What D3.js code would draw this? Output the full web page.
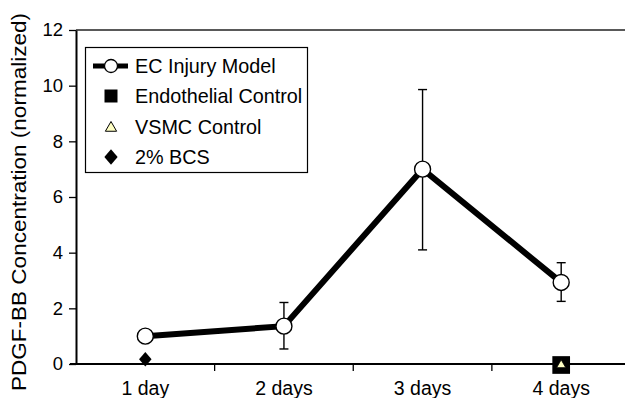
<!DOCTYPE html>
<html>
<head>
<meta charset="utf-8">
<script src="https://cdn.jsdelivr.net/npm/d3@7"></script>
<style>
  body { margin: 0; background: #fff; }
  svg { display: block; font-family: "Liberation Sans", Arial, Helvetica, sans-serif; }
</style>
</head>
<body>
<div id="chart"></div>
<script>
// chart data
const days = ["1 day", "2 days", "3 days", "4 days"];
const ecInjury = [1.0, 1.36, 7.0, 2.93];
const ecErrLow = [1.0, 0.54, 4.1, 2.25];
const ecErrHigh = [1.0, 2.21, 9.86, 3.64];
const endoControl = [{ day: "4 days", value: 0 }];
const vsmcControl = [{ day: "4 days", value: 0 }];
const bcs = [{ day: "1 day", value: 0.17 }];
const yTicks = [0, 2, 4, 6, 8, 10, 12];
const legendLabels = ["EC Injury Model", "Endothelial Control", "VSMC Control", "2% BCS"];

const width = 625, height = 398;
const svg = d3.select('#chart')
    .append('svg')
    .attr('width', width)
    .attr('height', height);

const x = d3.scaleBand()
    .domain(days)
    .range([76, 630.5])
    .padding(0);
const cx = d => x(d) + x.bandwidth() / 2;

const y = d3.scaleLinear()
    .domain([0, 12])
    .range([364, 30]);

// top frame line
svg.append('line')
    .attr('x1', 76).attr('x2', width)
    .attr('y1', y(12)).attr('y2', y(12))
    .attr('stroke', '#222')
    .attr('stroke-width', 1.5);

// Y axis
const yAxis = svg.append('g')
    .attr('transform', 'translate(76,0)')
    .call(d3.axisLeft(y).tickValues(yTicks).tickSize(7).tickPadding(6).tickSizeOuter(0));
yAxis.select('.domain').attr('stroke', '#000').attr('stroke-width', 2);
yAxis.selectAll('.tick line').attr('stroke', '#000').attr('stroke-width', 1.3);
yAxis.selectAll('text').attr('font-size', '18.5px').attr('fill', '#000');

// X axis (labels at centers, ticks at band boundaries)
const xAxis = svg.append('g')
    .attr('transform', 'translate(0,' + y(0) + ')')
    .call(d3.axisBottom(x).tickSize(0).tickPadding(17).tickSizeOuter(0));
xAxis.select('.domain').remove();
xAxis.selectAll('text').attr('font-size', '19.5px').attr('fill', '#000');

svg.append('line')
    .attr('x1', 70).attr('x2', width)
    .attr('y1', y(0)).attr('y2', y(0))
    .attr('stroke', '#000')
    .attr('stroke-width', 2);

svg.selectAll('.xtick')
    .data(days.slice(1))
    .enter()
    .append('line')
    .attr('class', 'xtick')
    .attr('x1', d => x(d)).attr('x2', d => x(d))
    .attr('y1', y(0)).attr('y2', y(0) + 7)
    .attr('stroke', '#000')
    .attr('stroke-width', 1.3);

// Y axis title
svg.append('text')
    .attr('transform', 'rotate(-90)')
    .attr('x', -202)
    .attr('y', 26)
    .attr('text-anchor', 'middle')
    .attr('font-size', '19.5px')
    .attr('textLength', 378)
    .attr('lengthAdjust', 'spacingAndGlyphs')
    .text('PDGF-BB Concentration (normalized)');

// EC injury series
const ecData = days.map((d, i) => ({ day: d, value: ecInjury[i], lo: ecErrLow[i], hi: ecErrHigh[i] }));

const errG = svg.append('g');
ecData.filter(d => d.hi > d.lo).forEach(d => {
    errG.append('line')
        .attr('x1', cx(d.day)).attr('x2', cx(d.day))
        .attr('y1', y(d.lo)).attr('y2', y(d.hi))
        .attr('stroke', '#000').attr('stroke-width', 1.4);
    [d.lo, d.hi].forEach(v => {
        errG.append('line')
            .attr('x1', cx(d.day) - 4.5).attr('x2', cx(d.day) + 4.5)
            .attr('y1', y(v)).attr('y2', y(v))
            .attr('stroke', '#000').attr('stroke-width', 1.4);
    });
});

const line = d3.line()
    .x(d => cx(d.day))
    .y(d => y(d.value));

svg.append('path')
    .datum(ecData)
    .attr('d', line)
    .attr('fill', 'none')
    .attr('stroke', '#000')
    .attr('stroke-width', 6);

svg.selectAll('.ecpt')
    .data(ecData)
    .enter()
    .append('circle')
    .attr('class', 'ecpt')
    .attr('cx', d => cx(d.day))
    .attr('cy', d => y(d.value))
    .attr('r', 8)
    .attr('fill', '#fff')
    .attr('stroke', '#000')
    .attr('stroke-width', 1.4);

// control markers
svg.selectAll('.endo')
    .data(endoControl)
    .enter()
    .append('path')
    .attr('class', 'endo')
    .attr('d', d3.symbol(d3.symbolSquare, 313))
    .attr('transform', d => 'translate(' + cx(d.day) + ',' + (y(d.value) + 1) + ')')
    .attr('fill', '#000');

svg.selectAll('.vsmc')
    .data(vsmcControl)
    .enter()
    .append('path')
    .attr('class', 'vsmc')
    .attr('d', d3.symbol(d3.symbolTriangle, 36))
    .attr('transform', d => 'translate(' + cx(d.day) + ',' + (y(d.value) + 1) + ')')
    .attr('fill', '#ffffc4')
    .attr('stroke', '#000')
    .attr('stroke-width', 0.8);

svg.selectAll('.bcs')
    .data(bcs)
    .enter()
    .append('path')
    .attr('class', 'bcs')
    .attr('d', d3.symbol(d3.symbolDiamond2, 110))
    .attr('transform', d => 'translate(' + cx(d.day) + ',' + y(d.value) + ') scale(0.95,1.1)')
    .attr('fill', '#000');

// Legend
const legend = svg.append('g');
legend.append('rect')
    .attr('x', 85.5).attr('y', 47.5)
    .attr('width', 222).attr('height', 125)
    .attr('fill', '#fff')
    .attr('stroke', '#000')
    .attr('stroke-width', 1.2);

const rowY = [66, 96, 127, 157];
const symX = 111;

legend.append('line')
    .attr('x1', 93).attr('x2', 128)
    .attr('y1', rowY[0]).attr('y2', rowY[0])
    .attr('stroke', '#000').attr('stroke-width', 5);
legend.append('circle')
    .attr('cx', symX).attr('cy', rowY[0]).attr('r', 6.5)
    .attr('fill', '#fff').attr('stroke', '#000').attr('stroke-width', 1.3);
legend.append('path')
    .attr('d', d3.symbol(d3.symbolSquare, 169))
    .attr('transform', 'translate(' + symX + ',' + rowY[1] + ')')
    .attr('fill', '#000');
legend.append('path')
    .attr('d', d3.symbol(d3.symbolTriangle, 55))
    .attr('transform', 'translate(' + symX + ',' + (rowY[2] + 1) + ')')
    .attr('fill', '#ffffc4').attr('stroke', '#000').attr('stroke-width', 1);
legend.append('path')
    .attr('d', d3.symbol(d3.symbolDiamond2, 125))
    .attr('transform', 'translate(' + symX + ',' + rowY[3] + ') scale(0.95,1.1)')
    .attr('fill', '#000');

legend.selectAll('.ltext')
    .data(legendLabels)
    .enter()
    .append('text')
    .attr('class', 'ltext')
    .attr('x', 135)
    .attr('y', (d, i) => rowY[i] + 7)
    .attr('font-size', '19.8px')
    .text(d => d);
</script>
</body>
</html>
